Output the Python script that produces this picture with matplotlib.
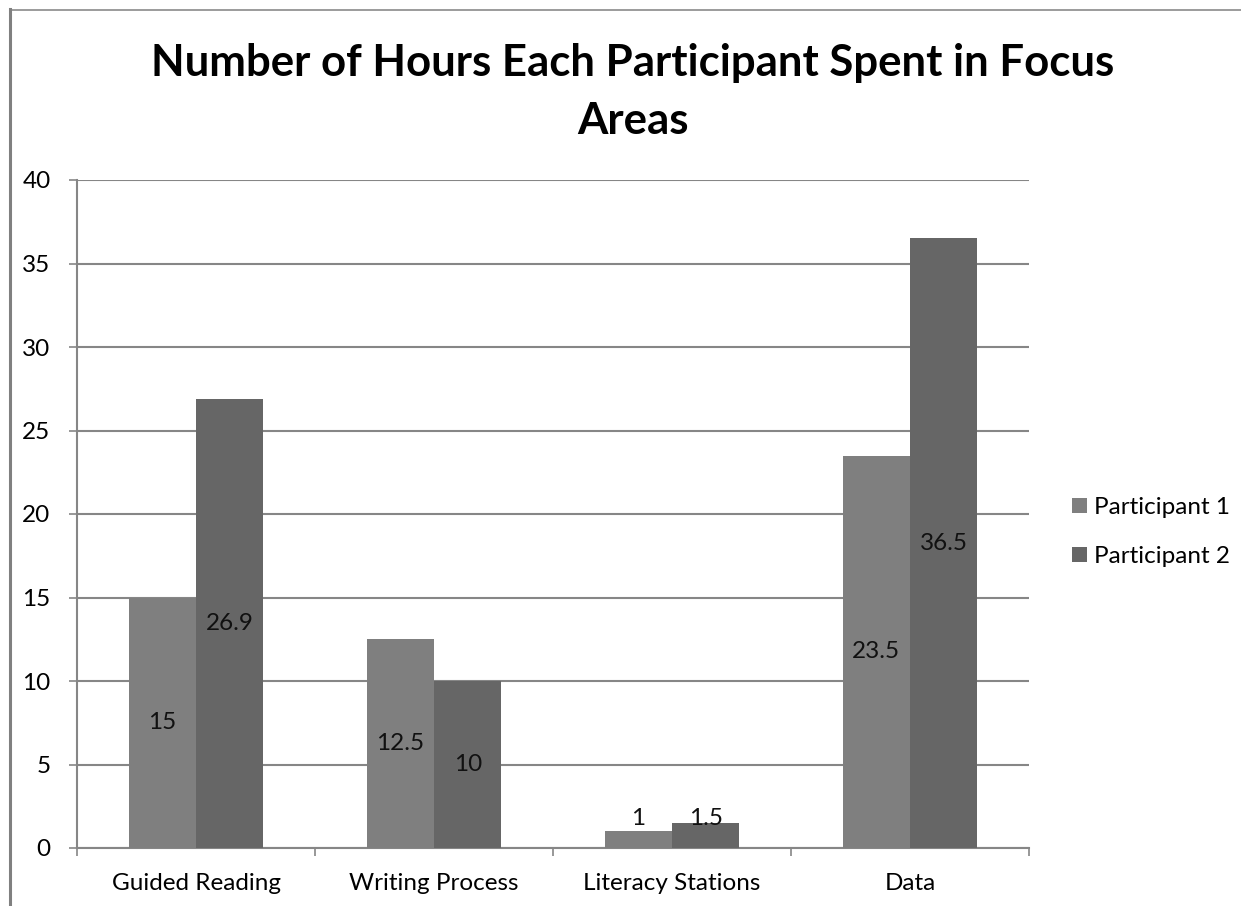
import matplotlib
matplotlib.use("Agg")
import matplotlib.pyplot as plt
from matplotlib.lines import Line2D
import numpy as np

categories = ["Guided Reading", "Writing Process", "Literacy Stations", "Data"]
participant_1 = [15, 12.5, 1, 23.5]
participant_2 = [26.9, 10, 1.5, 36.5]
series_names = ["Participant 1", "Participant 2"]
y_ticks = [0, 5, 10, 15, 20, 25, 30, 35, 40]
title = "Number of Hours Each Participant Spent in Focus\nAreas"

colors = ["#7f7f7f", "#666666"]
grid_color = "#868686"
font = "Lato"
fs = 17.5

plt.rcParams["font.family"] = [font, "DejaVu Sans"]

W, H = 1241, 906
fig = plt.figure(figsize=(W / 100, H / 100), dpi=100)
ax = fig.add_axes([77 / W, 1 - 848 / H, (1029 - 77) / W, (848 - 180) / H])

x = np.arange(len(categories))
width = 0.283
bars1 = ax.bar(x - width / 2, participant_1, width, color=colors[0], label=series_names[0], zorder=3)
bars2 = ax.bar(x + width / 2, participant_2, width, color=colors[1], label=series_names[1], zorder=3)

# value labels centred in each bar; short bars get their label lifted above the baseline
for bars in (bars1, bars2):
    for b in bars:
        v = b.get_height()
        y = v / 2 if v >= 5 else 1.75
        ax.text(b.get_x() + b.get_width() / 2, y, f"{v:g}", ha="center", va="center",
                fontsize=fs, color="#111111", zorder=4)

ax.set_xlim(-0.5, len(categories) - 0.5)
ax.set_ylim(0, 40)
ax.set_yticks(y_ticks)
ax.set_yticklabels([str(t) for t in y_ticks], fontsize=fs)
ax.yaxis.grid(True, color=grid_color, linewidth=1.5, zorder=0)
ax.set_axisbelow(True)

ax.set_xticks(np.arange(-0.5, len(categories)), minor=False)
ax.set_xticklabels([])
ax.set_xticks(x, minor=True)
ax.set_xticklabels(categories, minor=True, fontsize=fs)
ax.tick_params(axis="x", which="major", length=6, width=1.2, color=grid_color, direction="out")
ax.tick_params(axis="x", which="minor", length=0, pad=18)
ax.tick_params(axis="y", length=6, width=1.2, color=grid_color, direction="out", pad=13)

for s in ("top", "right"):
    ax.spines[s].set_visible(False)
for s in ("left", "bottom"):
    ax.spines[s].set_color(grid_color)
    ax.spines[s].set_linewidth(1.5)

fig.text(633 / W, 1 - 92 / H, title, ha="center", va="center", fontsize=31.5,
         fontweight="bold", linespacing=1.55)

leg = fig.legend(handles=[bars1, bars2], labels=series_names, loc="center left",
                 bbox_to_anchor=(1072 / W, 1 - 532 / H), frameon=False, fontsize=fs,
                 borderpad=0, borderaxespad=0,
                 handlelength=0.6, handleheight=0.6, handletextpad=0.3, labelspacing=1.15)

# outer frame edges of the chart area
fig.add_artist(Line2D([9.5 / W, 9.5 / W], [0, 1 - 9 / H], transform=fig.transFigure,
                      color="#808080", linewidth=2.2))
fig.add_artist(Line2D([9.5 / W, 1], [1 - 9.5 / H, 1 - 9.5 / H], transform=fig.transFigure,
                      color="#808080", linewidth=1.1))

fig.savefig("out.png", dpi=100)
